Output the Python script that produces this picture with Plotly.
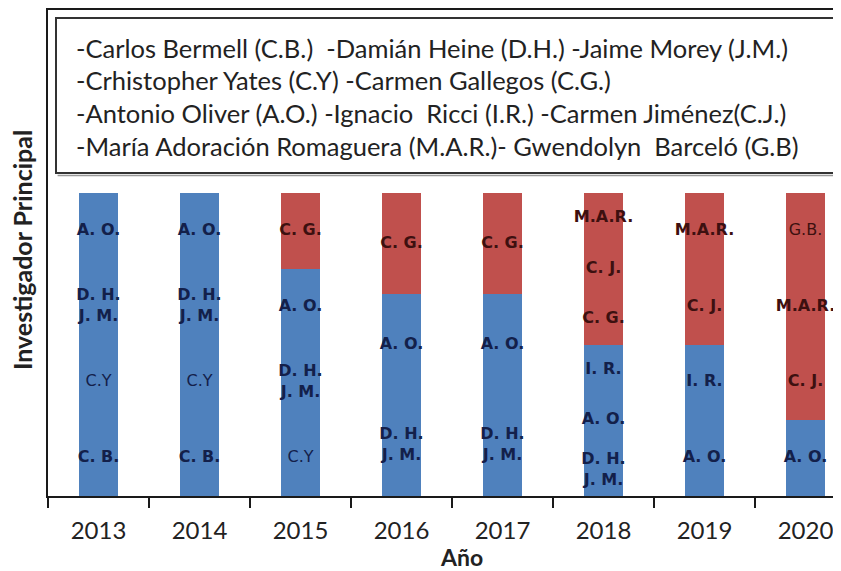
import plotly.graph_objects as go

# ---------------- data ----------------
years = ["2013", "2014", "2015", "2016", "2017", "2018", "2019", "2020"]

# principal investigators per year (bottom to top), split by gender
male_pis = [
    ["C. B.", "C.Y", "D. H.<br>J. M.", "A. O."],
    ["C. B.", "C.Y", "D. H.<br>J. M.", "A. O."],
    ["C.Y", "D. H.<br>J. M.", "A. O."],
    ["D. H.<br>J. M.", "A. O."],
    ["D. H.<br>J. M.", "A. O."],
    ["D. H.<br>J. M.", "A. O.", "I. R."],
    ["A. O.", "I. R."],
    ["A. O."],
]
female_pis = [
    [],
    [],
    ["C. G."],
    ["C. G."],
    ["C. G."],
    ["C. G.", "C. J.", "M.A.R."],
    ["C. J.", "M.A.R."],
    ["C. J.", "M.A.R.", "G.B."],
]
plain_labels = ["C.Y", "G.B."]   # labels drawn without bold

legend_lines = [
    "-Carlos Bermell (C.B.)\u00a0\u00a0-Damián Heine (D.H.) -Jaime Morey (J.M.)",
    "-Crhistopher Yates (C.Y) -Carmen Gallegos (C.G.)",
    "-Antonio Oliver (A.O.) -Ignacio\u00a0\u00a0Ricci (I.R.) -Carmen Jiménez(C.J.)",
    "-María Adoración Romaguera (M.A.R.)- Gwendolyn\u00a0\u00a0Barceló (G.B)",
]

# ---------------- derived values ----------------
men_pct, women_pct = [], []
lab_x, lab_y, lab_t, lab_c = [], [], [], []
for yr, m, f in zip(years, male_pis, female_pis):
    n = len(m) + len(f)
    share = 100.0 / n
    men_pct.append(share * len(m))
    women_pct.append(share * len(f))
    for i, name in enumerate(m + f):
        lab_x.append(yr)
        lab_y.append(share * i + share / 2)
        lab_t.append(name if name in plain_labels else "<b>" + name + "</b>")
        lab_c.append("#13204a" if i < len(m) else "#3d1010")

BLUE = "#4F81BD"
RED = "#C0504D"

# page body has an 8px margin: work in screenshot pixels and shift
OFF = 8
W, H = 841 - OFF, 571 - OFF
L = 48 - OFF           # plot left edge (screenshot x=48)
T = 10 - OFF           # plot top edge (screenshot y=10)
BOT = 496 - OFF        # plot bottom edge (screenshot y=496)
B = H - BOT
pw = W - L
ph = BOT - T

def px_x(x):
    return (x - OFF - L) / pw

def px_y(y):
    return (BOT - (y - OFF)) / ph

fig = go.Figure()
fig.add_trace(go.Bar(x=years, y=men_pct, marker=dict(color=BLUE, line=dict(width=0)),
                     width=0.39, name="Hombres", hoverinfo="skip"))
fig.add_trace(go.Bar(x=years, y=women_pct, marker=dict(color=RED, line=dict(width=0)),
                     width=0.39, name="Mujeres", hoverinfo="skip"))
fig.add_trace(go.Scatter(x=lab_x, y=lab_y, mode="text", text=lab_t,
                         textposition="middle center",
                         textfont=dict(family="DejaVu Sans", size=16, color=lab_c),
                         hoverinfo="skip", showlegend=False))

fig.update_layout(
    width=W, height=H,
    margin=dict(l=L, r=0, t=T, b=B, pad=0),
    barmode="stack",
    showlegend=False,
    plot_bgcolor="white",
    paper_bgcolor="white",
    font=dict(family="Lato", color="#222"),
    xaxis=dict(
        type="category",
        range=[-0.5, -0.5 + pw / 101.0],
        showline=True, linecolor="#1a1a1a", linewidth=2, mirror=True,
        ticks="outside", tickson="boundaries", ticklen=10, tickwidth=2, tickcolor="#1a1a1a",
        tickfont=dict(family="Lato", size=24, color="#222"),
        ticklabelstandoff=12,
        showgrid=False, zeroline=False,
    ),
    yaxis=dict(
        range=[0, 100 * ph / 303.0],
        showline=True, linecolor="#1a1a1a", linewidth=2,
        showticklabels=False, ticks="", showgrid=False, zeroline=False,
    ),
)

# legend text box (open on the right: it runs past the picture's edge)
bx0, bx1 = px_x(56), 1.3
by0, by1 = px_y(173), px_y(18)
fig.add_shape(type="rect", xref="paper", yref="paper",
              x0=bx0, x1=bx1, y0=by0, y1=by1,
              line=dict(width=0), fillcolor="white", layer="above")
fig.add_shape(type="path", xref="paper", yref="paper",
              path=f"M {bx1},{by1} L {bx0},{by1} L {bx0},{by0} L {bx1},{by0}",
              line=dict(color="#333", width=2), layer="above")
fig.add_shape(type="line", xref="paper", yref="paper",
              x0=bx0 + 0.002, x1=bx1, y0=px_y(175.5), y1=px_y(175.5),
              line=dict(color="#999", width=1.5), layer="above")

line_y = [48, 80, 113, 146]
for txt, yy in zip(legend_lines, line_y):
    fig.add_annotation(xref="paper", yref="paper", x=px_x(74), y=px_y(yy),
                       text=txt, showarrow=False, xanchor="left", yanchor="middle",
                       font=dict(family="Lato", size=25.5, color="#222"))

# axis titles
fig.add_annotation(xref="paper", yref="paper", x=px_x(22), y=px_y(250),
                   text="<b>Investigador Principal</b>", textangle=-90, showarrow=False,
                   xanchor="center", yanchor="middle",
                   font=dict(family="Lato", size=25, color="#222"))
fig.add_annotation(xref="paper", yref="paper", x=px_x(461), y=px_y(557),
                   text="<b>Año</b>", showarrow=False,
                   xanchor="center", yanchor="middle",
                   font=dict(family="Lato", size=23, color="#222"))

fig.write_html("out.html")
